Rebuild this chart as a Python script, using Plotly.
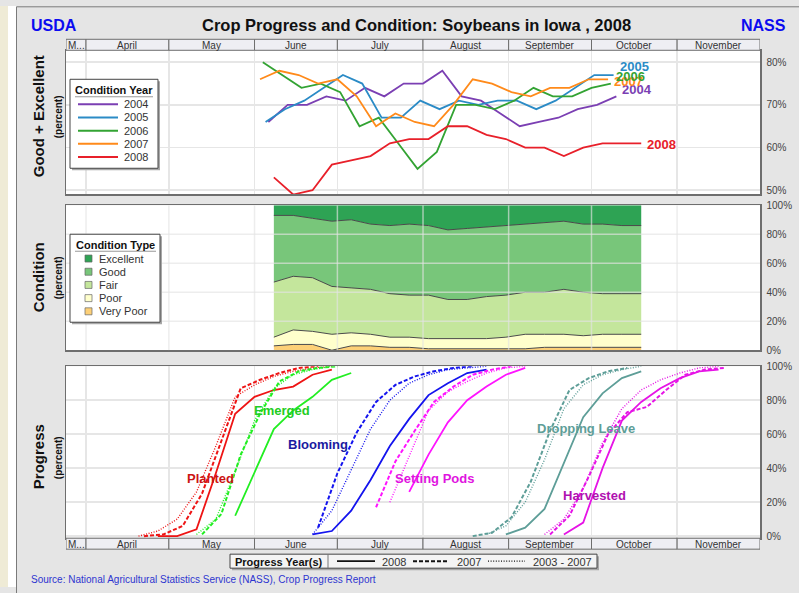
import pandas as pd
import plotly.graph_objects as go

W, H = 799, 593


def px(x):
    return x / W


def py(y):
    # vertical pixel (as measured on the target picture) -> paper fraction
    yi = (y - 4.7) / 0.98
    return 1 - yi / H


# ---------------- data ----------------
month_names = ["M...", "April", "May", "June", "July", "August", "September", "October", "November"]
month_edges = ["2008-03-24 18:00", "2008-04-01", "2008-05-01", "2008-06-01", "2008-07-01",
               "2008-08-01", "2008-09-01", "2008-10-01", "2008-11-01", "2008-12-01"]

# Good + Excellent (percent), weekly, each year placed on the 2008 calendar
cond_years = ["2004", "2005", "2006", "2007", "2008"]
cond_starts = ["2008-06-06", "2008-06-05", "2008-06-04", "2008-06-03", "2008-06-08"]
ge_2004 = [66, 70, 70, 72, 71, 74, 72, 75, 75, 78, 72, 71, 68, 65, 66, 67, 69, 70, 72]
ge_2005 = [66, 69, 71, 74, 77, 75, 67, 67, 71, 69, 71, 70, 71, 71, 69, 71, 74, 77, 77]
ge_2006 = [80, 77, 74, 75, 73, 65, 67, 61, 55, 59, 70, 70, 69, 71, 74, 72, 72, 74, 75]
ge_2007 = [76, 78, 77, 75, 76, 72, 65, 68, 66, 65, 70, 76, 75, 73, 72, 74, 74, 76, 76]
ge_2008 = [53, 49, 50, 56, 57, 58, 61, 62, 62, 65, 65, 63, 62, 60, 60, 58, 60, 61, 61, 61]

# Condition 2008 by type (percent), weekly from June 8
cond_type_start = "2008-06-08"
cond_types = ["Very Poor", "Poor", "Fair", "Good", "Excellent"]
very_poor = [3, 4, 4, 0, 3, 3, 2, 2, 1, 1, 1, 1, 1, 1, 2, 2, 2, 2, 2, 2]
poor = [6, 10, 9, 11, 9, 8, 7, 7, 7, 7, 7, 7, 8, 10, 9, 9, 8, 9, 9, 9]
fair = [38, 37, 37, 33, 31, 31, 30, 29, 30, 27, 27, 29, 29, 29, 29, 31, 30, 28, 28, 28]
good = [46, 42, 41, 45, 47, 45, 47, 49, 48, 48, 49, 48, 48, 47, 48, 47, 47, 48, 47, 47]
excellent = [7, 7, 9, 11, 10, 13, 14, 13, 14, 17, 16, 15, 14, 13, 12, 11, 13, 13, 14, 14]

# Progress (percent), weekly; each series: first week date + values
stages = ["Planted", "Emerged", "Blooming", "Setting Pods", "Dropping Leave", "Harvested"]
prog_years = ["2008", "2007", "2003 - 2007"]

planted_2008_start, planted_2008 = "2008-04-27", [0, 0, 4, 37, 72, 82, 86, 88, 95, 98]
planted_2007_start, planted_2007 = "2008-04-22", [0, 1, 6, 25, 56, 87, 92, 96, 99, 100]
planted_avg_start, planted_avg = "2008-04-20", [0, 3, 10, 26, 53, 82, 89, 94, 97, 99, 100]

emerged_2008_start, emerged_2008 = "2008-05-25", [12, 38, 63, 74, 82, 92, 96]
emerged_2007_start, emerged_2007 = "2008-05-13", [1, 13, 48, 72, 91, 97, 99, 100]
emerged_avg_start, emerged_avg = "2008-05-11", [1, 10, 38, 68, 87, 95, 98, 100]

blooming_2008_start, blooming_2008 = "2008-06-22", [1, 3, 15, 33, 53, 69, 83, 90, 96, 98]
blooming_2007_start, blooming_2007 = "2008-06-24", [5, 37, 61, 79, 89, 94, 97, 99, 100]
blooming_avg_start, blooming_avg = "2008-06-22", [1, 15, 39, 63, 80, 90, 95, 98, 99, 100]

pods_2008_start, pods_2008 = "2008-07-27", [26, 48, 67, 80, 88, 95, 99]
pods_2007_start, pods_2007 = "2008-07-15", [17, 44, 62, 79, 88, 95, 98, 100]
pods_avg_start, pods_avg = "2008-07-20", [20, 47, 74, 85, 91, 96, 99, 100]

leaves_2008_start, leaves_2008 = "2008-08-31", [1, 5, 16, 43, 70, 84, 93, 97]
leaves_2007_start, leaves_2007 = "2008-08-19", [0, 2, 11, 32, 62, 86, 93, 97, 99]
leaves_avg_start, leaves_avg = "2008-08-24", [1, 6, 20, 45, 75, 89, 95, 98, 100]

harvest_2008_start, harvest_2008 = "2008-09-21", [1, 8, 40, 68, 79, 87, 93, 97, 98]
harvest_2007_start, harvest_2007 = "2008-09-16", [1, 12, 35, 60, 73, 76, 86, 95, 98, 99]
harvest_avg_start, harvest_avg = "2008-09-14", [1, 10, 28, 55, 75, 86, 92, 96, 99, 100]

# ---------------- styles ----------------
FONT = "Liberation Sans, Arial, sans-serif"
year_colors = {"2004": "#7B3FB3", "2005": "#2B8BC6", "2006": "#33A333", "2007": "#FF8A1A", "2008": "#E8202A"}
type_colors = {"Excellent": "#2EA354", "Good": "#78C67A", "Fair": "#C4E69C",
               "Poor": "#FFFFCC", "Very Poor": "#FDD077"}
stage_line = {"Planted": "#EE1414", "Emerged": "#22EE22", "Blooming": "#1414EE",
              "Setting Pods": "#FF14FF", "Dropping Leave": "#5E9E98", "Harvested": "#E614E6"}
stage_label = {"Planted": "#CC1414", "Emerged": "#22CC22", "Blooming": "#1A1AA0",
               "Setting Pods": "#E014E0", "Dropping Leave": "#5E9E98", "Harvested": "#B010B0"}
year_dash = {"2008": ("solid", 1.8), "2007": ("4px,2px", 2.0), "2003 - 2007": ("1px,1.6px", 1.4)}


def weeks(start, n):
    return pd.date_range(start, periods=n, freq="7D")


fig = go.Figure()

# ---- top panel: Good + Excellent
ge_vals = [ge_2004, ge_2005, ge_2006, ge_2007, ge_2008]
for yr, st, vals in zip(cond_years, cond_starts, ge_vals):
    fig.add_trace(go.Scatter(x=weeks(st, len(vals)), y=vals, mode="lines",
                             line=dict(color=year_colors[yr], width=1.8),
                             xaxis="x", yaxis="y", showlegend=False, hoverinfo="skip"))

# ---- middle panel: stacked condition
for name, vals in zip(cond_types, [very_poor, poor, fair, good, excellent]):
    fig.add_trace(go.Scatter(x=weeks(cond_type_start, len(vals)), y=vals, mode="lines",
                             stackgroup="cond", fillcolor=type_colors[name],
                             line=dict(color="#4A4A4A", width=1 if name != "Excellent" else 0),
                             xaxis="x2", yaxis="y2", showlegend=False, hoverinfo="skip"))

# ---- bottom panel: progress
progress = {
    "Planted": [(planted_2008_start, planted_2008), (planted_2007_start, planted_2007), (planted_avg_start, planted_avg)],
    "Emerged": [(emerged_2008_start, emerged_2008), (emerged_2007_start, emerged_2007), (emerged_avg_start, emerged_avg)],
    "Blooming": [(blooming_2008_start, blooming_2008), (blooming_2007_start, blooming_2007), (blooming_avg_start, blooming_avg)],
    "Setting Pods": [(pods_2008_start, pods_2008), (pods_2007_start, pods_2007), (pods_avg_start, pods_avg)],
    "Dropping Leave": [(leaves_2008_start, leaves_2008), (leaves_2007_start, leaves_2007), (leaves_avg_start, leaves_avg)],
    "Harvested": [(harvest_2008_start, harvest_2008), (harvest_2007_start, harvest_2007), (harvest_avg_start, harvest_avg)],
}
for stage in stages:
    for yr, (st, vals) in zip(prog_years, progress[stage]):
        dash, w = year_dash[yr]
        fig.add_trace(go.Scatter(x=weeks(st, len(vals)), y=vals, mode="lines",
                                 line=dict(color=stage_line[stage], width=w, dash=dash),
                                 xaxis="x3", yaxis="y3", showlegend=False, hoverinfo="skip"))

# ---------------- axes ----------------
xr = [month_edges[0], month_edges[-1]]
grid_c = "#E6E6E6"
frame_c = "#6E6E6E"


def xax(anchor, grid):
    return dict(type="date", range=xr, domain=[px(66), px(760)], anchor=anchor,
                showticklabels=False, ticks="", tickvals=month_edges[1:-1],
                showgrid=grid, gridcolor=grid_c, gridwidth=1.5, zeroline=False,
                showline=True, mirror=True, linecolor=frame_c, linewidth=1.5)


def yax(anchor, dom, rng, tv, grid):
    return dict(domain=dom, range=rng, anchor=anchor, side="right",
                tickvals=tv, ticktext=[f"{v}%" for v in tv],
                tickfont=dict(size=10, color="#444", family=FONT),
                ticks="outside", ticklen=3, tickcolor="rgba(0,0,0,0)",
                showgrid=grid, gridcolor=grid_c, gridwidth=1.5, zeroline=False,
                showline=True, mirror=True, linecolor=frame_c, linewidth=1.5)


shapes = []
annotations = []

# background pieces
shapes.append(dict(type="rect", xref="paper", yref="paper", x0=0, x1=px(16), y0=0, y1=1,
                   fillcolor="white", line=dict(width=0), layer="below"))
shapes.append(dict(type="rect", xref="paper", yref="paper", x0=0, x1=px(8), y0=0, y1=1,
                   fillcolor="#EFEBD6", line=dict(width=0), layer="below"))
shapes.append(dict(type="rect", xref="paper", yref="paper", x0=px(16), x1=1, y0=py(5), y1=1,
                   fillcolor="white", line=dict(width=0), layer="below"))
shapes.append(dict(type="rect", xref="paper", yref="paper", x0=px(16.5), x1=px(801), y0=-0.05, y1=py(5.5),
                   fillcolor="rgba(0,0,0,0)", line=dict(color="#7A7A7A", width=1), layer="below"))

# middle panel grid drawn above the fill
for d in month_edges[1:-1]:
    shapes.append(dict(type="line", xref="x2", yref="y2", x0=d, x1=d, y0=0, y1=100,
                       line=dict(color="rgba(228,228,228,0.65)", width=1.5), layer="above"))
for v in [20, 40, 60, 80]:
    shapes.append(dict(type="line", xref="x2 domain", yref="y2", x0=0, x1=1, y0=v, y1=v,
                       line=dict(color="rgba(228,228,228,0.65)", width=1.5), layer="above"))

# month header bands (top and bottom)
for (ytop, ybot) in [(38, 49), (537, 548)]:
    for i, name in enumerate(month_names):
        a, b = month_edges[i], month_edges[i + 1]
        shapes.append(dict(type="rect", xref="x", yref="paper", x0=a, x1=b,
                           y0=py(ybot), y1=py(ytop), fillcolor="#EEEEF3",
                           line=dict(color=frame_c, width=1), layer="above"))
        mid = pd.Timestamp(a) + (pd.Timestamp(b) - pd.Timestamp(a)) / 2
        annotations.append(dict(xref="x", yref="paper", x=mid, y=py((ytop + ybot) / 2 + 0.5),
                                text=name, showarrow=False, font=dict(size=10, color="#333", family=FONT),
                                xanchor="center", yanchor="middle"))

# ---- legends (drawn manually)
def box(x0, y0, x1, y1, fill="white"):
    shapes.append(dict(type="rect", xref="paper", yref="paper", x0=px(x0 + 2), x1=px(x1 + 2),
                       y0=py(y1 + 2), y1=py(y0 + 2), fillcolor="#A8A8A8", line=dict(width=0), layer="above"))
    shapes.append(dict(type="rect", xref="paper", yref="paper", x0=px(x0), x1=px(x1),
                       y0=py(y1), y1=py(y0), fillcolor=fill, line=dict(color="#444", width=1), layer="above"))


def text(x, y, s, size=11, color="#333", anchor="left", bold=False):
    annotations.append(dict(xref="paper", yref="paper", x=px(x), y=py(y),
                            text=f"<b>{s}</b>" if bold else s, showarrow=False,
                            font=dict(size=size, color=color, family=FONT),
                            xanchor=anchor, yanchor="middle"))


# Condition Year legend
box(70, 78, 158, 167)
text(114, 89, "Condition Year", 11, "#111", "center", True)
shapes.append(dict(type="line", xref="paper", yref="paper", x0=px(75), x1=px(153), y0=py(95.5), y1=py(95.5),
                   line=dict(color="#999", width=1), layer="above"))
for i, yr in enumerate(cond_years):
    yy = 103 + i * 13.2
    shapes.append(dict(type="line", xref="paper", yref="paper", x0=px(78), x1=px(118), y0=py(yy), y1=py(yy),
                       line=dict(color=year_colors[yr], width=2), layer="above"))
    text(122, yy, yr)

# Condition Type legend
box(70, 233, 160, 321)
text(115, 244, "Condition Type", 11, "#111", "center", True)
shapes.append(dict(type="line", xref="paper", yref="paper", x0=px(75), x1=px(156), y0=py(250), y1=py(250),
                   line=dict(color="#999", width=1), layer="above"))
for i, name in enumerate(cond_types[::-1]):
    yy = 257.3 + i * 13.2
    shapes.append(dict(type="rect", xref="paper", yref="paper", x0=px(85), x1=px(92), y0=py(yy + 3.5), y1=py(yy - 3.5),
                       fillcolor=type_colors[name], line=dict(color="#666", width=0.7), layer="above"))
    text(97, yy, name)

# Progress Year(s) legend
box(230, 553, 597, 567, fill="#F4F4F4")
shapes.append(dict(type="line", xref="paper", yref="paper", x0=px(328), x1=px(328), y0=py(567), y1=py(553),
                   line=dict(color="#777", width=1), layer="above"))
text(279, 560.5, "Progress Year(s)", 11, "#111", "center", True)
for (x0, x1, tx), yr in zip([(337, 375, 380), (413, 448, 455), (488, 525, 531)], prog_years):
    dash, w = year_dash[yr]
    shapes.append(dict(type="line", xref="paper", yref="paper", x0=px(x0), x1=px(x1), y0=py(560), y1=py(560),
                       line=dict(color="#111", width=w, dash=dash), layer="above"))
    text(tx, 560.5, yr, 11, "#333")

# titles
text(416, 24, "Crop Progress and Condition: Soybeans in Iowa , 2008", 16.5, "#111", "center", True)
text(29, 24, "USDA", 16, "#0B0BF0", "left", True)
text(788, 24, "NASS", 16, "#0B0BF0", "right", True)
text(29, 578, "Source: National Agricultural Statistics Service (NASS), Crop Progress Report", 10, "#2E35D0", "left")

for (yc, big) in [(115, "Good + Excellent"), (276, "Condition"), (456, "Progress")]:
    annotations.append(dict(xref="paper", yref="paper", x=px(38), y=py(yc), text=f"<b>{big}</b>",
                            textangle=-90, showarrow=False, font=dict(size=15, color="#111", family=FONT),
                            xanchor="center", yanchor="middle"))
    annotations.append(dict(xref="paper", yref="paper", x=px(58), y=py(yc), text="<b>(percent)</b>",
                            textangle=-90, showarrow=False, font=dict(size=10, color="#111", family=FONT),
                            xanchor="center", yanchor="middle"))

# end-of-line year labels (top panel)
end_labels = [("2004", "2008-10-11 08:00", 73.7), ("2007", "2008-10-08 10:00", 75.4),
              ("2006", "2008-10-09 05:00", 76.6), ("2005", "2008-10-10 14:00", 79.0),
              ("2008", "2008-10-20 10:00", 60.8)]
for yr, xd, yv in end_labels:
    annotations.append(dict(xref="x", yref="y", x=xd, y=yv, text=f"<b>{yr}</b>", showarrow=False,
                            font=dict(size=13, color=year_colors[yr], family=FONT),
                            xanchor="left", yanchor="middle"))

# stage labels (bottom panel)
stage_pos = {"Planted": ("2008-05-16", 34), "Emerged": ("2008-06-11", 74), "Blooming": ("2008-06-24", 54),
             "Setting Pods": ("2008-08-05", 34), "Dropping Leave": ("2008-09-29", 63.5),
             "Harvested": ("2008-10-02", 24)}
for stage in stages:
    xd, yv = stage_pos[stage]
    annotations.append(dict(xref="x3", yref="y3", x=xd, y=yv, text=f"<b>{stage}</b>", showarrow=False,
                            font=dict(size=13, color=stage_label[stage], family=FONT),
                            xanchor="center", yanchor="middle"))

fig.update_layout(
    width=W, height=H, autosize=False, margin=dict(l=0, r=0, t=0, b=0, pad=0),
    paper_bgcolor="#E5E5E5", plot_bgcolor="white",
    font=dict(family=FONT, size=10, color="#333"),
    showlegend=False,
    xaxis=xax("y", True), xaxis2=xax("y2", False), xaxis3=xax("y3", True),
    yaxis=yax("x", [py(193), py(49)], [49.06, 82.8], [50, 60, 70, 80], True),
    yaxis2=yax("x2", [py(349), py(204)], [0, 100], [0, 20, 40, 60, 80, 100], False),
    yaxis3=yax("x3", [py(537), py(365)], [-1.2, 100], [0, 20, 40, 60, 80, 100], True),
    shapes=shapes, annotations=annotations,
)

fig.write_html(
    "out.html",
    config={"responsive": False, "displayModeBar": False, "staticPlot": True},
    post_script="document.body.style.margin='0';document.body.style.padding='0';"
                "document.body.style.overflow='hidden';",
)
